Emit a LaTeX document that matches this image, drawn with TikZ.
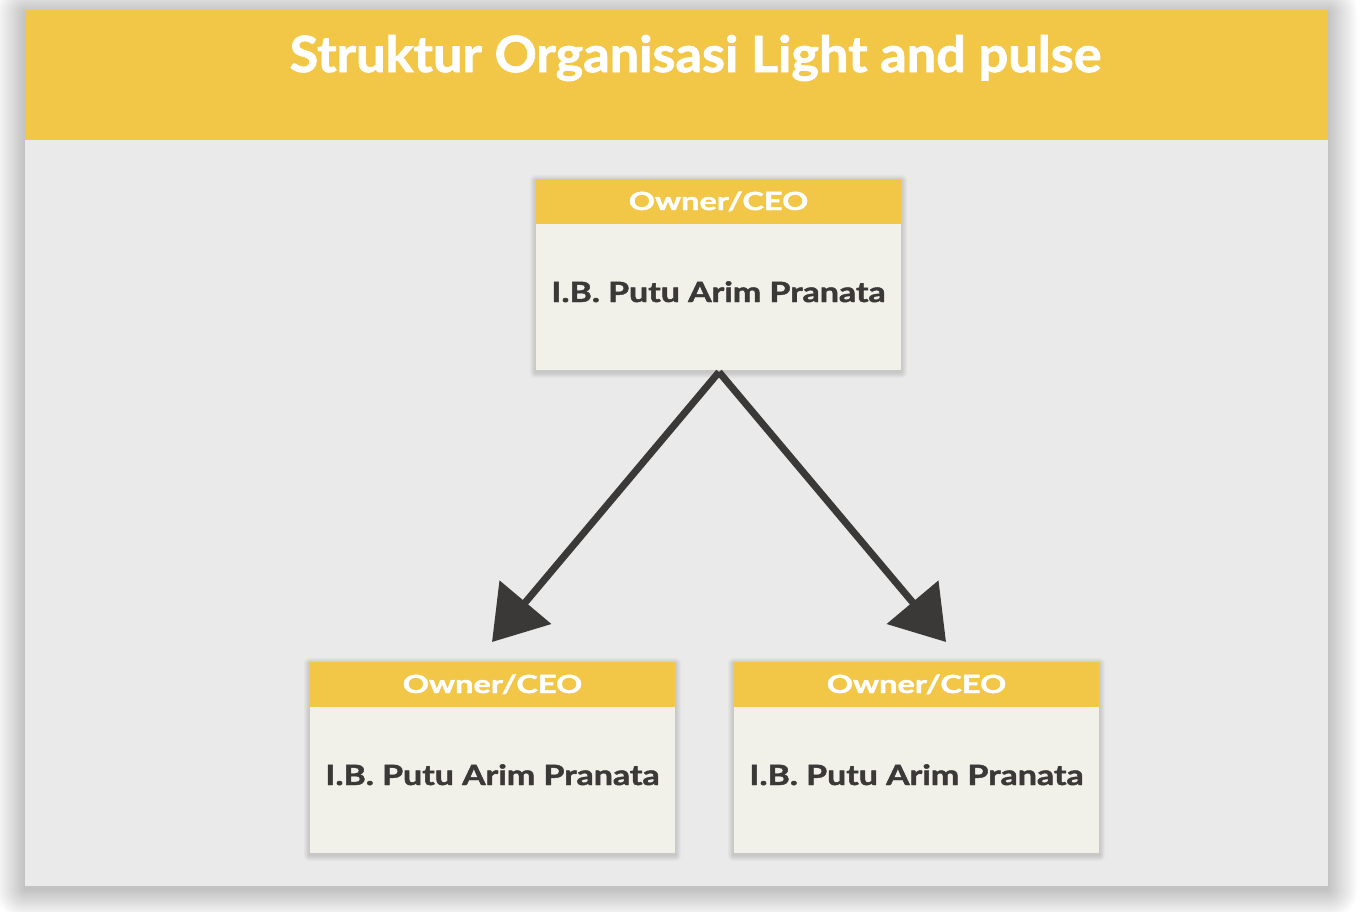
\documentclass[tikz,border=0pt]{standalone}
\usepackage{fontspec}
\setmainfont{Lato}
\newfontfamily\heavyfont{Lato}[BoldFeatures={FakeBold=1.5}]
\usetikzlibrary{arrows.meta}
\pgfdeclarelayer{back}
\pgfdeclarelayer{mid}
\pgfsetlayers{back,mid,main}
\definecolor{hdr}{HTML}{F2C647}
\definecolor{panel}{HTML}{EAEAEA}
\definecolor{body}{HTML}{F2F1E9}
\definecolor{ink}{HTML}{3B3838}
\tikzset{
  cardbody/.style={rectangle, fill=body, minimum width=365pt, minimum height=191pt, inner sep=0pt},
  cardhead/.style={rectangle, fill=hdr, minimum width=365pt, minimum height=45pt, inner sep=0pt,
    anchor=north, text=white, text height=18pt, text depth=1pt, font=\fontsize{25}{27}\heavyfont\bfseries},
  cardname/.style={text=ink, text height=20pt, text depth=0pt, font=\fontsize{28}{30}\heavyfont\bfseries, inner sep=0pt},
  link/.style={draw=ink, line width=7pt, -{Triangle[length=52pt,width=66pt]}}
}
\newcommand\cardshadow[1]{%
  \begin{pgfonlayer}{mid}
  \foreach \i in {1,...,6}{
    \fill[black, opacity=0.022, rounded corners=\i pt]
      ([shift={(-\i,-\i+2)}]#1.north west) rectangle ([shift={(\i,\i+2)}]#1.south east);
  }
  \end{pgfonlayer}}
\begin{document}
\begin{tikzpicture}[x=1pt,y=-1pt]
\useasboundingbox (0,0) rectangle (1366,911);
\begin{pgfonlayer}{back}
\fill[white] (0,0) rectangle (1366,911);
\foreach \i in {1,...,30}{
  \fill[black, opacity=0.006, rounded corners=\i pt] (25-\i,10-\i+3) rectangle (1328+\i,886+\i+3);
}
\fill[panel] (25,10) rectangle (1328,886);
\fill[hdr] (25,10) rectangle (1328,140);
\end{pgfonlayer}
\node[text=white, font=\fontsize{50}{52}\heavyfont\bfseries, inner sep=0pt] (title) at (695.5,58) {\scalebox{1.045}[1]{Struktur Organisasi Light and pulse}};

\node[cardbody] (top) at (718.5,274.5) {};
\node[cardhead] (topH) at (top.north) {\scalebox{1.3}[1]{Owner/CEO}};
\node[cardname] (topN) at (718.5,292) {\scalebox{1.21}[1]{I.B. Putu Arim Pranata}};
\cardshadow{top}

\node[cardbody] (left) at (492.5,757.5) {};
\node[cardhead] (leftH) at (left.north) {\scalebox{1.3}[1]{Owner/CEO}};
\node[cardname] (leftN) at (492.5,775) {\scalebox{1.21}[1]{I.B. Putu Arim Pranata}};
\cardshadow{left}

\node[cardbody] (right) at (916.5,757.5) {};
\node[cardhead] (rightH) at (right.north) {\scalebox{1.3}[1]{Owner/CEO}};
\node[cardname] (rightN) at (916.5,775) {\scalebox{1.21}[1]{I.B. Putu Arim Pranata}};
\cardshadow{right}

\coordinate (tipL) at (492,642);
\coordinate (tipR) at (946,642);
\coordinate (src) at (719,372);
\draw[link] (src) -- (tipL);
\draw[link] (src) -- (tipR);
\end{tikzpicture}
\end{document}
